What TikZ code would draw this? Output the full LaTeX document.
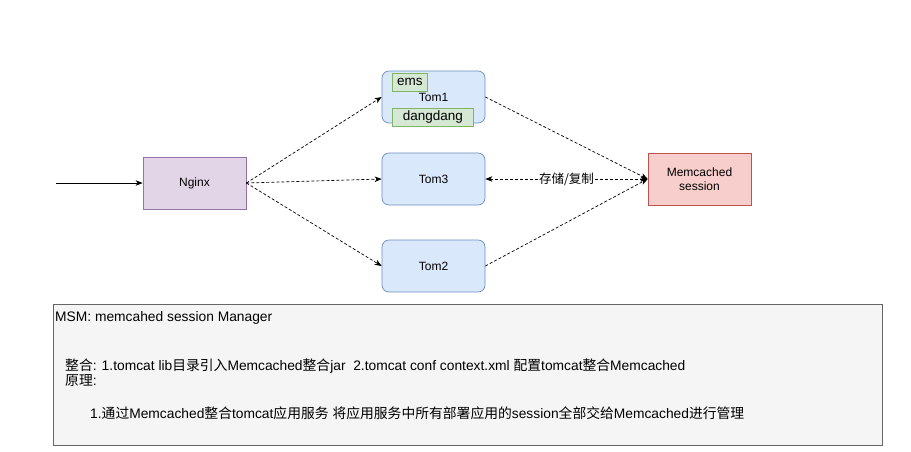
\documentclass[tikz,border=0pt]{standalone}
\usepackage{fontspec}
\setmainfont{Liberation Sans}
\newfontfamily\cjk{Noto Sans CJK SC}
\newcommand{\zh}[1]{{\cjk #1}}
\usetikzlibrary{arrows.meta}
\definecolor{nginxfill}{HTML}{E1D5E7}
\definecolor{nginxdraw}{HTML}{9673A6}
\definecolor{tomfill}{HTML}{DAE8FC}
\definecolor{tomdraw}{HTML}{6C8EBF}
\definecolor{memfill}{HTML}{F8CECC}
\definecolor{memdraw}{HTML}{B85450}
\definecolor{grfill}{HTML}{D5E8D4}
\definecolor{grdraw}{HTML}{82B366}
\definecolor{notefill}{HTML}{F5F5F5}
\definecolor{notedraw}{HTML}{666666}
\begin{document}
\begin{tikzpicture}[x=1pt,y=-1pt,
  boxnode/.style={minimum width=103pt,minimum height=52pt,inner sep=0pt,font=\fontsize{12}{14}\selectfont,line width=0.7pt},
  tombox/.style={boxnode,rounded corners=7pt,fill=tomfill,draw=tomdraw},
  tagbox/.style={anchor=north west,fill=grfill,draw=grdraw,inner sep=0pt,minimum height=18pt,font=\fontsize{13.5}{15}\selectfont,line width=0.7pt},
  dasharrow/.style={densely dashed,line width=0.7pt,-{Stealth[length=7pt,width=5.5pt,inset=2pt]}},
  notetext/.style={anchor=west,inner sep=0pt,font=\fontsize{13.8}{16}\selectfont}
]
\useasboundingbox (0,0) rectangle (911,451);

\node[boxnode,fill=nginxfill,draw=nginxdraw] (nginx) at (194.5,183) {Nginx};
\node[tombox] (tom1) at (433.5,97) {};
\node[font=\fontsize{12}{14}\selectfont] (tom1t) at (433.5,97) {Tom1};
\node[tagbox,minimum width=35pt] (ems) at (392,73) {ems};
\node[tagbox,minimum width=81pt] (dang) at (392,108) {dangdang};
\node[tombox] (tom3) at (433.5,179) {Tom3};
\node[tombox] (tom2) at (433.5,266) {Tom2};
\node[boxnode,fill=memfill,draw=memdraw,align=center] (mem) at (699.5,179) {Memcached\\session};

\coordinate (in) at (56,183);
\draw[line width=0.8pt,-{Stealth[length=7pt,width=5.5pt,inset=2pt]}] (in) -- (nginx.west);

\draw[dasharrow] (nginx.east) -- (tom1.west);
\draw[dasharrow] (nginx.east) -- (tom3.west);
\draw[dasharrow] (nginx.east) -- (tom2.west);
\draw[dasharrow] (tom1.east) -- (mem.west);
\draw[dasharrow] (tom2.east) -- (mem.west);
\draw[dasharrow,{Stealth[length=7pt,width=5.5pt,inset=2pt]}-{Stealth[length=7pt,width=5.5pt,inset=2pt]}] (mem.west) -- node[fill=white,inner sep=1pt,font=\cjk\fontsize{12.5}{14}\selectfont] (lbl) {存储/复制} (tom3.east);

\node[fill=notefill,draw=notedraw,line width=0.7pt,minimum width=829pt,minimum height=141pt,anchor=north west] (note) at (53,304) {};
\node[notetext] (t1) at (55,318) {MSM: memcahed session Manager};
\node[notetext] (t2) at (65,366) {\zh{整合}: 1.tomcat lib\zh{目录引入}Memcached\zh{整合}jar\ \ 2.tomcat conf context.xml \zh{配置}tomcat\zh{整合}Memcached};
\node[notetext] (t3) at (65,381) {\zh{原理}:};
\node[notetext] (t4) at (90,413) {1.\zh{通过}Memcached\zh{整合}tomcat\zh{应用服务} \zh{将应用服务中所有部署应用的}session\zh{全部交给}Memcached\zh{进行管理}};
\end{tikzpicture}
\end{document}
